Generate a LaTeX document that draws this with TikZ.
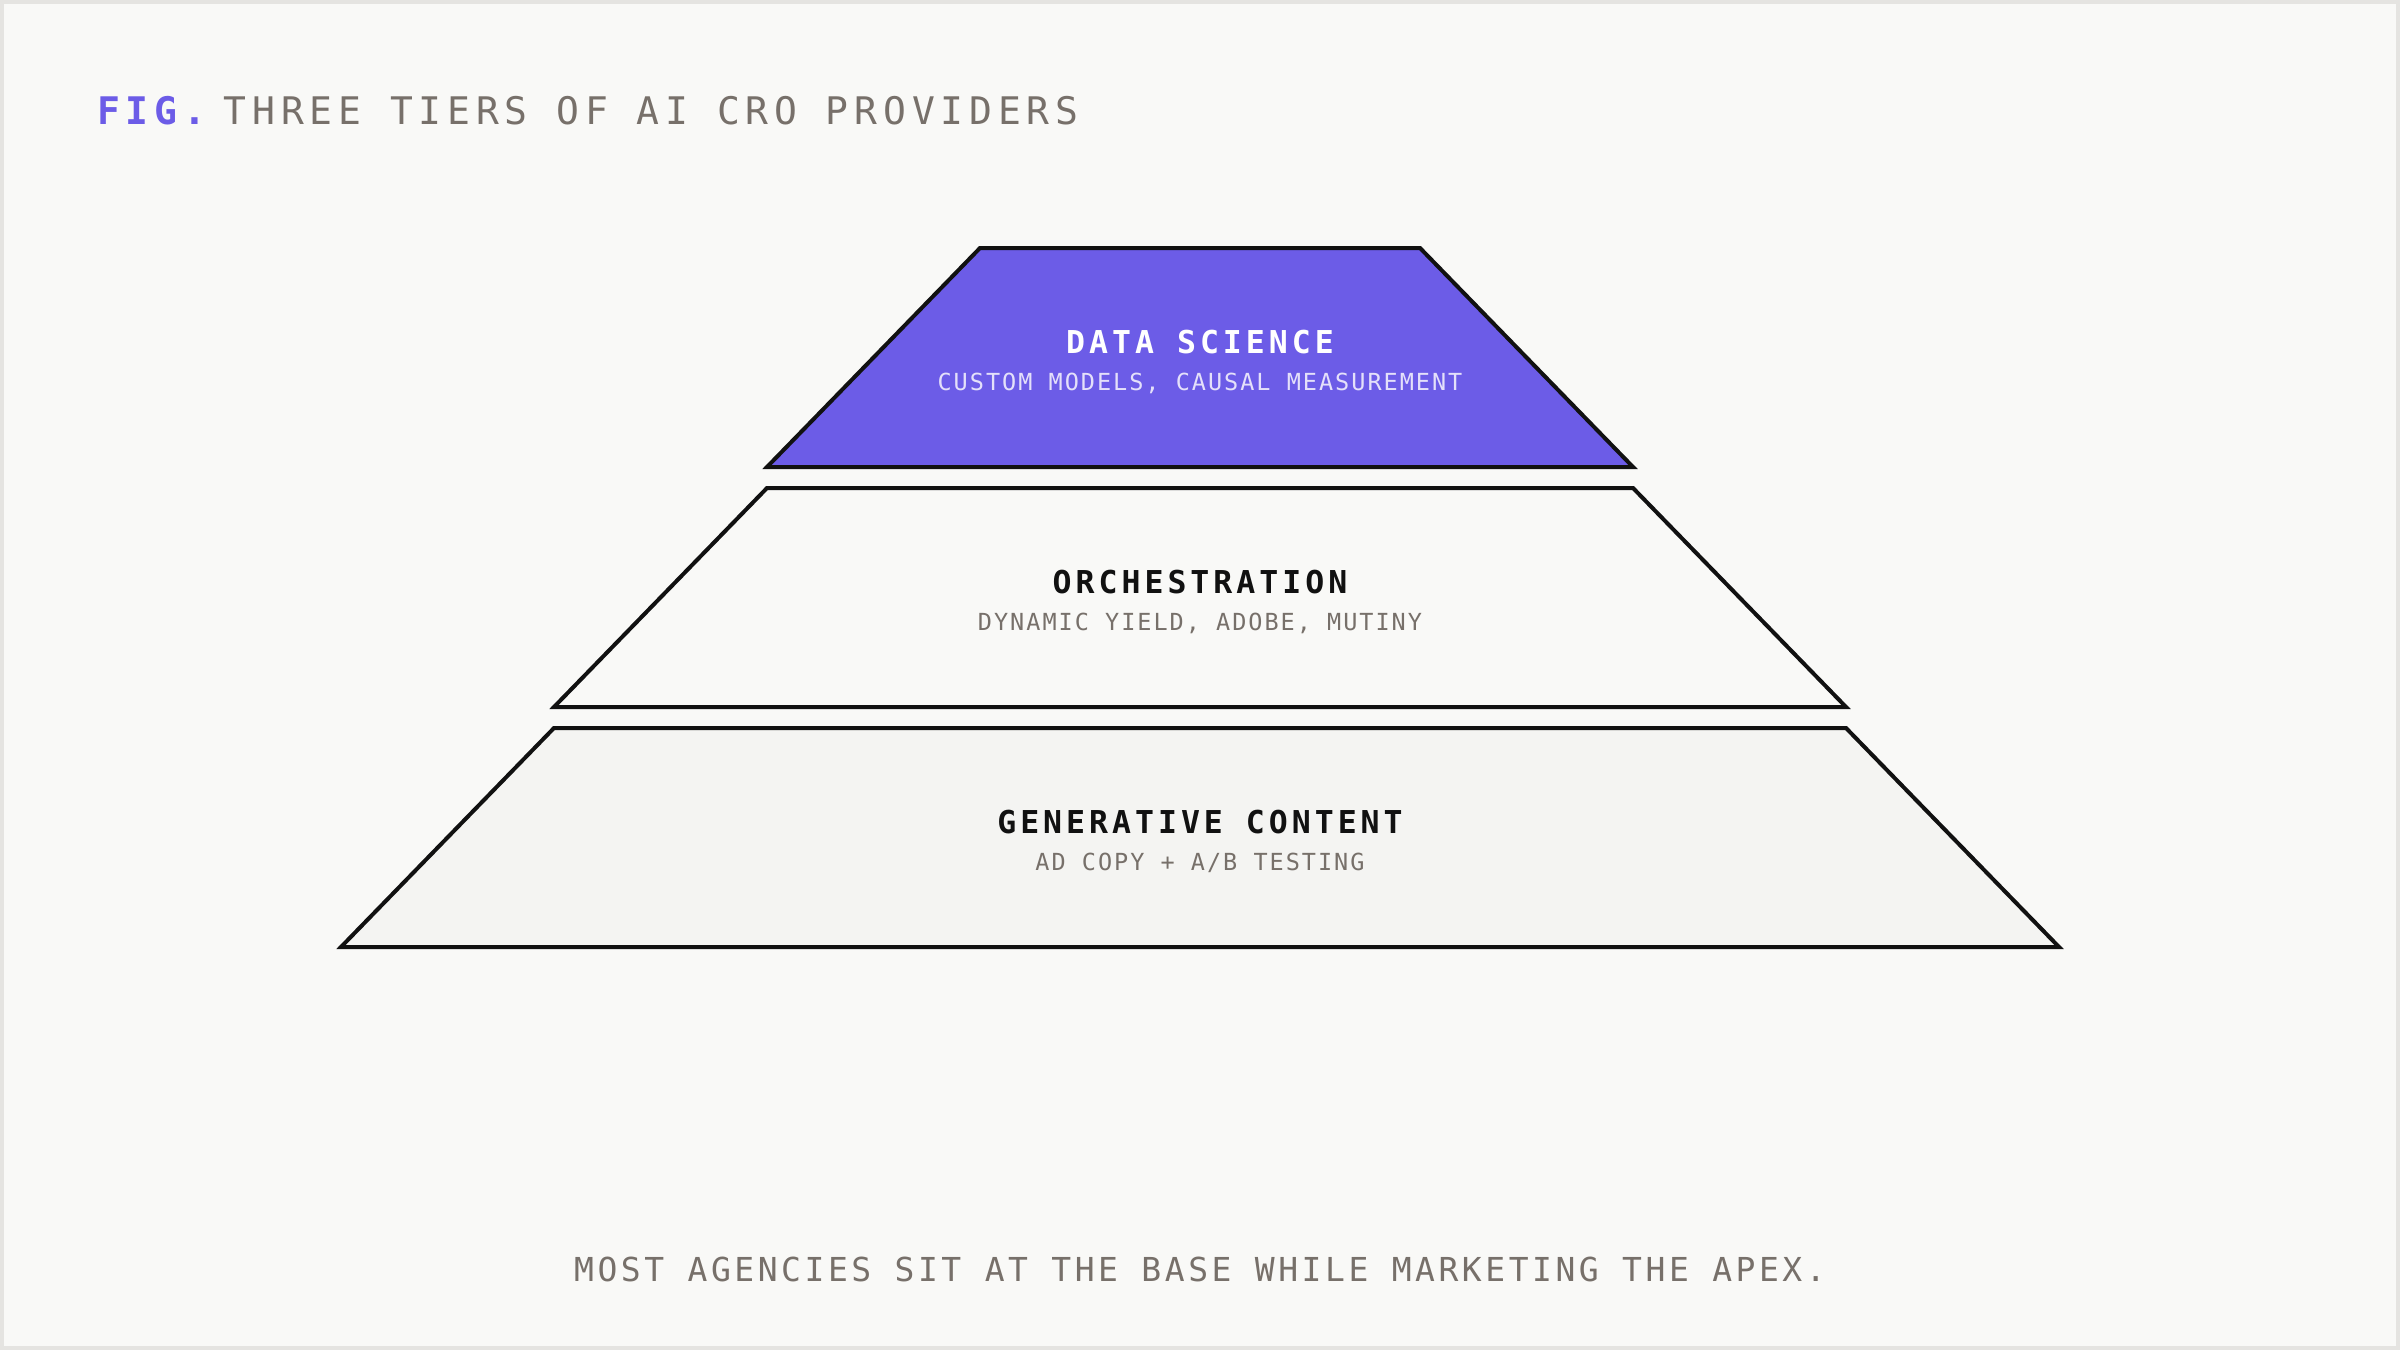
\documentclass[tikz,border=0pt]{standalone}
\usepackage{fontspec}
\newfontfamily\mono{DejaVu Sans Mono}
\definecolor{bgc}{HTML}{F9F9F7}
\definecolor{framec}{HTML}{E5E4E1}
\definecolor{accent}{HTML}{6C5CE7}
\definecolor{inkc}{HTML}{111111}
\definecolor{mutedc}{HTML}{77706A}
\definecolor{basefill}{HTML}{F4F4F2}
\definecolor{lavender}{HTML}{E4E0FA}
\tikzset{
  tier/.style={draw=inkc, line width=4pt, line join=miter},
  headtxt/.style={inner sep=0pt, anchor=base west, font=\mono\fontsize{38}{40}\selectfont\addfontfeatures{LetterSpace=15.3}},
  tiertitle/.style={inner sep=0pt, anchor=base, font=\mono\bfseries\fontsize{31.5}{34}\selectfont\addfontfeatures{LetterSpace=12.7}},
  tiersub/.style={inner sep=0pt, anchor=base, font=\mono\fontsize{23.5}{26}\selectfont\addfontfeatures{LetterSpace=8.5}},
  foottxt/.style={inner sep=0pt, anchor=base, text=mutedc, font=\mono\fontsize{33}{36}\selectfont\addfontfeatures{LetterSpace=10.7}}
}
\begin{document}
\begin{tikzpicture}[x=1pt,y=-1pt]
\useasboundingbox (0,0) rectangle (2400,1350);
\fill[framec] (0,0) rectangle (2400,1350);
\fill[bgc] (4,4) rectangle (2396,1346);
% title
\node[headtxt] (title) at (97,124) {{\color{accent}\bfseries FIG.} \hspace{-11pt}\textcolor{mutedc}{THREE TIERS OF AI CRO PROVIDERS}};
% tiers
\draw[tier, fill=accent] (980,248) -- (1420,248) -- (1633,467) -- (767,467) -- cycle;
\draw[tier, fill=bgc] (767,488) -- (1633,488) -- (1846,707) -- (554,707) -- cycle;
\draw[tier, fill=basefill] (554,728) -- (1846,728) -- (2059,947) -- (341,947) -- cycle;
% labels
\node[tiertitle, text=white] (t1) at (1200,353) {DATA SCIENCE};
\node[tiersub, text=lavender] (s1) at (1200,390) {CUSTOM MODELS, CAUSAL MEASUREMENT};
\node[tiertitle, text=inkc] (t2) at (1200,593) {ORCHESTRATION};
\node[tiersub, text=mutedc] (s2) at (1200,630) {DYNAMIC YIELD, ADOBE, MUTINY};
\node[tiertitle, text=inkc] (t3) at (1200,833) {GENERATIVE CONTENT};
\node[tiersub, text=mutedc] (s3) at (1200,870) {AD COPY + A/B TESTING};
% footer
\node[foottxt] (foot) at (1200,1281) {MOST AGENCIES SIT AT THE BASE WHILE MARKETING THE APEX.};
\end{tikzpicture}
\end{document}
